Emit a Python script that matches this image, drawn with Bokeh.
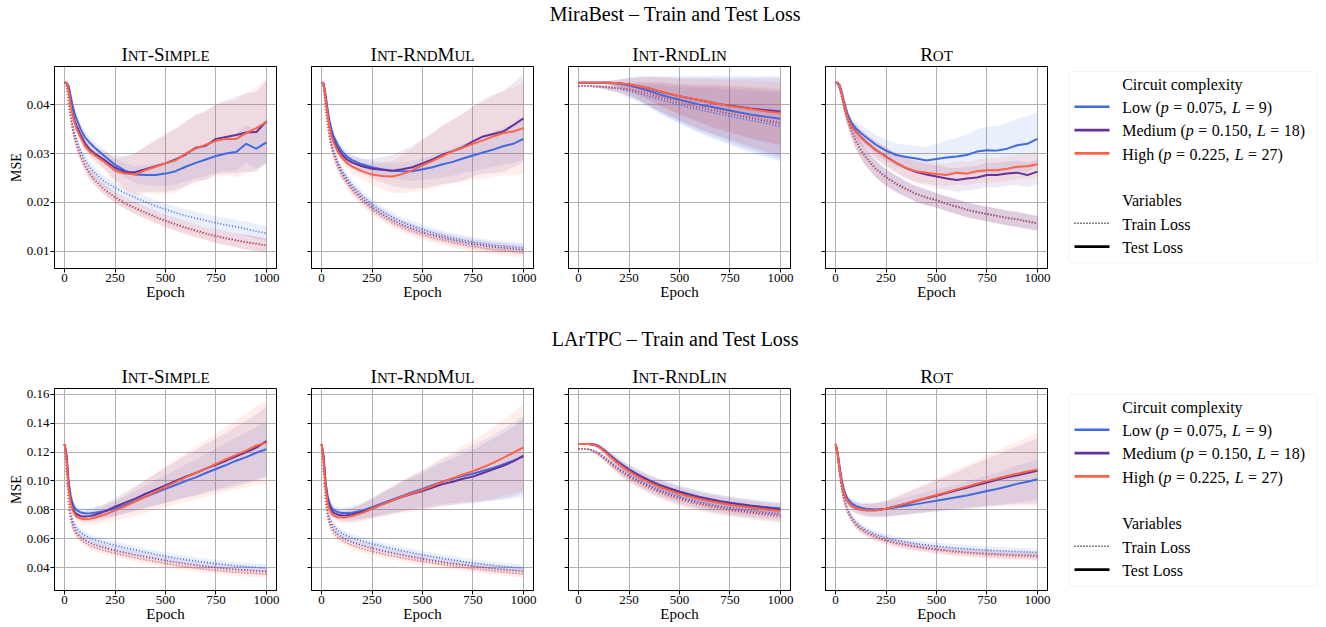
import math
from bokeh.plotting import figure
from bokeh.layouts import row, column
from bokeh.models import (Range1d, FixedTicker, PrintfTickFormatter,
                          CustomJSTickFormatter, Label, BoxAnnotation)
from bokeh.embed import file_html
from bokeh.resources import INLINE

# ---------------------------------------------------------------- data
EPOCHS = [0, 10, 20, 30, 40, 50, 60, 80, 100, 125, 150, 200, 250, 300, 350,
          400, 450, 500, 550, 600, 650, 700, 750, 800, 850, 900, 950, 1000]

COMPLEXITY = ["low", "med", "high"]
COMPLEXITY_LABELS = [("Low (", "0.075,", "9)"), ("Medium (", "0.150,", "18)"), ("High (", "0.225,", "27)")]
COLORS = {"low": "#4169e1", "med": "#663399", "high": "#ff6347"}

DATASETS = ["MiraBest", "LArTPC"]
SUPTITLES = ["MiraBest \u2013 Train and Test Loss", "LArTPC \u2013 Train and Test Loss"]
PANEL_TITLES = ["Int-Simple", "Int-RndMul", "Int-RndLin", "Rot"]

MB_Y_RANGE = (0.0065, 0.0478)
MB_Y_TICKS = [0.01, 0.02, 0.03, 0.04]
LA_Y_RANGE = (0.0243, 0.1639)
LA_Y_TICKS = [0.04, 0.06, 0.08, 0.10, 0.12, 0.14, 0.16]
X_TICKS = [0, 250, 500, 750, 1000]

# ---- MiraBest / Int-Simple
MB_SIMPLE_TEST_LOW = [.0445, .0445, .0438, .0418, .0398, .0382, .0370, .0350, .0334, .0322, .0312, .0294, .0277, .0265, .0257, .0256, .0256, .0259, .0264, .0273, .0281, .0288, .0295, .0300, .0303, .0320, .0310, .0323]
MB_SIMPLE_TEST_MED = [.0445, .0445, .0432, .0405, .0383, .0367, .0356, .0338, .0322, .0308, .0300, .0286, .0271, .0262, .0262, .0268, .0274, .0280, .0288, .0298, .0312, .0316, .0330, .0334, .0338, .0343, .0344, .0366]
MB_SIMPLE_TEST_HIGH = [.0445, .0445, .0428, .0400, .0378, .0362, .0350, .0332, .0316, .0304, .0296, .0282, .0265, .0259, .0257, .0266, .0273, .0280, .0286, .0300, .0310, .0318, .0326, .0330, .0330, .0342, .0352, .0365]
MB_SIMPLE_TRAIN_LOW = [.0445, .0440, .0410, .0382, .0360, .0342, .0328, .0305, .0288, .0272, .0260, .0242, .0230, .0219, .0210, .0201, .0193, .0186, .0179, .0173, .0168, .0163, .0158, .0154, .0150, .0146, .0141, .0137]
MB_SIMPLE_TRAIN_MED = [.0445, .0438, .0402, .0372, .0350, .0332, .0317, .0294, .0276, .0259, .0246, .0226, .0211, .0199, .0189, .0180, .0171, .0163, .0156, .0149, .0143, .0137, .0132, .0127, .0123, .0119, .0116, .0112]
MB_SIMPLE_TRAIN_HIGH = [.0445, .0438, .0400, .0370, .0348, .0330, .0315, .0292, .0274, .0257, .0244, .0224, .0209, .0197, .0187, .0178, .0169, .0161, .0154, .0147, .0141, .0135, .0130, .0126, .0122, .0118, .0115, .0111]
MB_SIMPLE_TEST_SD_LOW = [0, 0, .0003, .0005, .0007, .0008, .0009, .0010, .0011, .0012, .0012, .0012, .0013, .0015, .0017, .0020, .0022, .0025, .0028, .0030, .0032, .0033, .0035, .0036, .0038, .0039, .0040, .0042]
MB_SIMPLE_TEST_SD_MED = [0, 0, .0003, .0005, .0007, .0008, .0009, .0010, .0011, .0012, .0013, .0018, .0025, .0033, .0040, .0046, .0052, .0058, .0062, .0065, .0068, .0070, .0072, .0075, .0078, .0080, .0082, .0084]
MB_SIMPLE_TEST_SD_HIGH = [0, 0, .0003, .0005, .0007, .0008, .0009, .0010, .0011, .0012, .0013, .0018, .0025, .0034, .0042, .0048, .0055, .0062, .0065, .0067, .0069, .0071, .0073, .0076, .0079, .0082, .0084, .0086]
MB_SIMPLE_TRAIN_SD = [0, 0, .0004, .0006, .0008, .0009, .0010, .0010, .0011, .0011, .0011, .0011, .0011, .0011, .0012, .0012, .0012, .0012, .0013, .0013, .0013, .0013, .0014, .0014, .0014, .0015, .0015, .0015]

# ---- MiraBest / Int-RndMul
MB_RNDMUL_TEST_LOW = [.0445, .0443, .0420, .0390, .0365, .0348, .0335, .0318, .0305, .0294, .0287, .0278, .0272, .0268, .0265, .0264, .0264, .0268, .0272, .0278, .0283, .0290, .0296, .0302, .0308, .0315, .0320, .0330]
MB_RNDMUL_TEST_MED = [.0445, .0443, .0415, .0383, .0357, .0340, .0327, .0310, .0298, .0288, .0282, .0274, .0269, .0267, .0265, .0268, .0272, .0280, .0288, .0298, .0305, .0313, .0325, .0335, .0340, .0345, .0358, .0372]
MB_RNDMUL_TEST_HIGH = [.0445, .0443, .0412, .0380, .0353, .0335, .0322, .0304, .0292, .0281, .0274, .0264, .0257, .0254, .0253, .0258, .0266, .0276, .0285, .0295, .0305, .0312, .0320, .0327, .0335, .0342, .0345, .0352]
MB_RNDMUL_TRAIN_LOW = [.0445, .0438, .0395, .0362, .0338, .0320, .0305, .0283, .0266, .0250, .0236, .0214, .0196, .0182, .0170, .0160, .0152, .0145, .0138, .0132, .0127, .0123, .0119, .0116, .0113, .0111, .0109, .0107]
MB_RNDMUL_TRAIN_MED = [.0445, .0437, .0392, .0358, .0333, .0314, .0299, .0277, .0260, .0244, .0230, .0208, .0190, .0176, .0164, .0154, .0146, .0139, .0133, .0128, .0123, .0119, .0115, .0112, .0109, .0107, .0105, .0103]
MB_RNDMUL_TRAIN_HIGH = [.0445, .0436, .0389, .0354, .0329, .0310, .0295, .0272, .0255, .0239, .0225, .0203, .0185, .0171, .0159, .0149, .0141, .0134, .0128, .0123, .0118, .0114, .0110, .0107, .0104, .0102, .0100, .0098]
MB_RNDMUL_TEST_SD_LOW = [0, 0, .0003, .0005, .0007, .0008, .0009, .0010, .0011, .0011, .0012, .0012, .0013, .0014, .0016, .0018, .0020, .0022, .0024, .0026, .0028, .0030, .0032, .0034, .0036, .0038, .0040, .0042]
MB_RNDMUL_TEST_SD_MED = [0, 0, .0003, .0005, .0007, .0008, .0009, .0010, .0011, .0012, .0013, .0016, .0020, .0026, .0032, .0038, .0044, .0050, .0055, .0060, .0064, .0068, .0072, .0076, .0080, .0083, .0086, .0090]
MB_RNDMUL_TEST_SD_HIGH = [0, 0, .0003, .0005, .0007, .0008, .0009, .0010, .0011, .0012, .0013, .0016, .0021, .0027, .0033, .0039, .0045, .0051, .0056, .0061, .0066, .0070, .0074, .0078, .0082, .0086, .0090, .0094]
MB_RNDMUL_TRAIN_SD = [0, 0, .0004, .0006, .0008, .0009, .0010, .0010, .0010, .0010, .0010, .0010, .0010, .0010, .0010, .0010, .0010, .0010, .0010, .0010, .0010, .0010, .0010, .0010, .0010, .0010, .0010, .0010]

# ---- MiraBest / Int-RndLin
MB_RNDLIN_TEST_LOW = [.0445, .0445, .0445, .0445, .0445, .0445, .0445, .0445, .0445, .0445, .0445, .0443, .0439, .0434, .0428, .0421, .0415, .0410, .0405, .0400, .0396, .0392, .0388, .0384, .0380, .0377, .0374, .0371]
MB_RNDLIN_TEST_MED = [.0445, .0445, .0445, .0445, .0445, .0445, .0445, .0445, .0445, .0445, .0445, .0444, .0441, .0437, .0433, .0427, .0422, .0417, .0413, .0409, .0405, .0401, .0398, .0395, .0392, .0390, .0388, .0386]
MB_RNDLIN_TEST_HIGH = [.0445, .0445, .0445, .0445, .0445, .0445, .0445, .0445, .0445, .0445, .0445, .0444, .0441, .0437, .0433, .0428, .0422, .0417, .0413, .0409, .0405, .0401, .0397, .0394, .0391, .0388, .0385, .0383]
MB_RNDLIN_TRAIN_LOW = [.0438, .0438, .0438, .0438, .0438, .0438, .0438, .0437, .0437, .0436, .0435, .0432, .0428, .0423, .0417, .0411, .0405, .0399, .0394, .0389, .0385, .0381, .0376, .0372, .0368, .0364, .0360, .0356]
MB_RNDLIN_TRAIN_MED = [.0438, .0438, .0438, .0438, .0438, .0438, .0438, .0437, .0437, .0436, .0435, .0434, .0431, .0427, .0422, .0416, .0410, .0404, .0399, .0394, .0390, .0386, .0381, .0377, .0373, .0369, .0365, .0362]
MB_RNDLIN_TRAIN_HIGH = [.0438, .0438, .0438, .0438, .0438, .0438, .0438, .0437, .0437, .0436, .0435, .0434, .0431, .0427, .0422, .0417, .0411, .0405, .0400, .0396, .0392, .0388, .0384, .0380, .0376, .0372, .0368, .0365]
MB_RNDLIN_TEST_SD_LOW = [0, 0, 0, 0, 0, 0, 0, 0, .0001, .0002, .0004, .0009, .0017, .0024, .0031, .0037, .0043, .0048, .0053, .0058, .0063, .0067, .0071, .0075, .0078, .0081, .0084, .0087]
MB_RNDLIN_TEST_SD_MED = [0, 0, 0, 0, 0, 0, 0, 0, .0001, .0002, .0003, .0007, .0013, .0019, .0024, .0029, .0034, .0038, .0042, .0046, .0050, .0053, .0056, .0059, .0062, .0065, .0067, .0069]
MB_RNDLIN_TEST_SD_HIGH = [0, 0, 0, 0, 0, 0, 0, 0, .0001, .0002, .0003, .0007, .0012, .0018, .0023, .0028, .0032, .0036, .0040, .0044, .0047, .0050, .0053, .0056, .0058, .0060, .0062, .0064]
MB_RNDLIN_TRAIN_SD = [0, 0, 0, 0, 0, 0, .0001, .0002, .0003, .0004, .0006, .0009, .0014, .0019, .0024, .0029, .0033, .0037, .0041, .0045, .0049, .0052, .0055, .0058, .0061, .0064, .0066, .0068]

# ---- MiraBest / Rot
MB_ROT_TEST_LOW = [.0445, .0445, .0440, .0427, .0410, .0394, .0380, .0362, .0352, .0342, .0334, .0318, .0306, .0297, .0293, .0290, .0286, .0289, .0292, .0294, .0297, .0304, .0307, .0306, .0310, .0317, .0320, .0330]
MB_ROT_TEST_MED = [.0445, .0445, .0438, .0423, .0405, .0388, .0373, .0355, .0346, .0334, .0324, .0307, .0294, .0281, .0270, .0262, .0257, .0253, .0249, .0246, .0249, .0251, .0256, .0256, .0259, .0261, .0256, .0263]
MB_ROT_TEST_HIGH = [.0445, .0445, .0438, .0423, .0405, .0388, .0373, .0354, .0345, .0333, .0323, .0307, .0293, .0281, .0270, .0264, .0261, .0258, .0256, .0261, .0259, .0264, .0266, .0266, .0269, .0273, .0274, .0278]
MB_ROT_TRAIN_LOW = [.0445, .0443, .0433, .0418, .0400, .0383, .0370, .0346, .0327, .0308, .0293, .0269, .0252, .0239, .0228, .0218, .0211, .0205, .0198, .0192, .0186, .0181, .0177, .0173, .0169, .0166, .0162, .0158]
MB_ROT_TRAIN_MED = [.0445, .0443, .0432, .0416, .0398, .0381, .0368, .0344, .0326, .0307, .0292, .0268, .0251, .0238, .0227, .0217, .0210, .0204, .0197, .0191, .0185, .0180, .0176, .0172, .0168, .0165, .0161, .0157]
MB_ROT_TRAIN_HIGH = [.0445, .0443, .0432, .0416, .0398, .0381, .0368, .0344, .0325, .0306, .0291, .0267, .0250, .0237, .0226, .0217, .0210, .0204, .0197, .0191, .0185, .0180, .0176, .0172, .0168, .0165, .0161, .0157]
MB_ROT_TEST_SD_LOW = [0, 0, .0002, .0004, .0006, .0008, .0010, .0012, .0014, .0016, .0018, .0020, .0022, .0024, .0025, .0026, .0028, .0031, .0034, .0038, .0042, .0045, .0048, .0050, .0052, .0055, .0057, .0055]
MB_ROT_TEST_SD_MED = [0, 0, .0002, .0004, .0006, .0008, .0010, .0012, .0014, .0015, .0016, .0018, .0019, .0020, .0021, .0022, .0022, .0023, .0023, .0024, .0024, .0024, .0025, .0025, .0025, .0025, .0025, .0025]
MB_ROT_TEST_SD_HIGH = [0, 0, .0002, .0004, .0006, .0008, .0010, .0012, .0014, .0015, .0016, .0018, .0019, .0020, .0021, .0022, .0022, .0023, .0023, .0024, .0024, .0024, .0025, .0025, .0025, .0025, .0025, .0025]
MB_ROT_TRAIN_SD = [0, 0, .0003, .0006, .0009, .0011, .0013, .0015, .0016, .0017, .0017, .0017, .0017, .0017, .0016, .0016, .0016, .0015, .0015, .0015, .0015, .0015, .0015, .0015, .0015, .0015, .0015, .0015]

# ---- LArTPC / Int-Simple
LA_SIMPLE_TEST_LOW = [.1255, .1180, .1000, .0900, .0845, .0815, .0798, .0782, .0777, .0776, .0780, .0792, .0807, .0835, .0862, .0890, .0918, .0945, .0972, .1000, .1025, .1055, .1083, .1110, .1140, .1165, .1195, .1220]
LA_SIMPLE_TEST_MED = [.1255, .1160, .0970, .0870, .0815, .0785, .0770, .0757, .0754, .0757, .0765, .0790, .0822, .0850, .0878, .0910, .0940, .0970, .1000, .1030, .1055, .1085, .1112, .1140, .1170, .1200, .1230, .1275]
LA_SIMPLE_TEST_HIGH = [.1255, .1140, .0950, .0850, .0795, .0768, .0752, .0740, .0736, .0738, .0746, .0768, .0795, .0825, .0858, .0890, .0925, .0960, .0992, .1025, .1055, .1085, .1118, .1150, .1180, .1210, .1245, .1265]
LA_SIMPLE_TRAIN_LOW = [.1255, .1080, .0880, .0780, .0728, .0695, .0672, .0645, .0625, .0607, .0593, .0572, .0555, .0538, .0523, .0508, .0494, .0480, .0468, .0457, .0447, .0437, .0429, .0421, .0414, .0408, .0403, .0398]
LA_SIMPLE_TRAIN_MED = [.1255, .1060, .0850, .0750, .0698, .0665, .0642, .0612, .0592, .0573, .0559, .0538, .0520, .0504, .0490, .0476, .0463, .0450, .0438, .0428, .0418, .0409, .0401, .0394, .0388, .0383, .0379, .0375]
LA_SIMPLE_TRAIN_HIGH = [.1255, .1040, .0830, .0730, .0680, .0646, .0623, .0593, .0573, .0553, .0539, .0518, .0500, .0484, .0469, .0455, .0442, .0430, .0418, .0408, .0398, .0390, .0383, .0376, .0370, .0365, .0361, .0357]
LA_SIMPLE_TEST_SD_LOW = [0, .0010, .0020, .0025, .0028, .0030, .0031, .0033, .0035, .0038, .0040, .0045, .0052, .0060, .0068, .0077, .0086, .0095, .0104, .0113, .0122, .0131, .0140, .0150, .0160, .0170, .0180, .0190]
LA_SIMPLE_TEST_SD_MED = [0, .0010, .0020, .0025, .0028, .0030, .0032, .0034, .0036, .0040, .0044, .0052, .0062, .0074, .0086, .0098, .0110, .0122, .0134, .0146, .0158, .0170, .0182, .0194, .0206, .0218, .0230, .0240]
LA_SIMPLE_TEST_SD_HIGH = [0, .0010, .0020, .0025, .0028, .0030, .0032, .0035, .0038, .0042, .0047, .0057, .0070, .0084, .0098, .0112, .0126, .0140, .0154, .0168, .0182, .0196, .0210, .0224, .0240, .0256, .0272, .0290]
LA_SIMPLE_TRAIN_SD = [0, .0010, .0018, .0022, .0024, .0025, .0026, .0026, .0026, .0026, .0026, .0026, .0026, .0026, .0026, .0026, .0026, .0026, .0026, .0026, .0026, .0026, .0026, .0026, .0026, .0026, .0026, .0026]

# ---- LArTPC / Int-RndMul
LA_RNDMUL_TEST_LOW = [.1255, .1170, .0990, .0895, .0845, .0815, .0800, .0785, .0779, .0778, .0780, .0795, .0818, .0845, .0870, .0897, .0922, .0945, .0970, .0995, .1015, .1035, .1050, .1070, .1090, .1115, .1140, .1170]
LA_RNDMUL_TEST_MED = [.1255, .1160, .0970, .0875, .0825, .0795, .0780, .0767, .0762, .0763, .0768, .0785, .0810, .0838, .0865, .0890, .0912, .0930, .0955, .0978, .0995, .1015, .1030, .1055, .1080, .1105, .1135, .1175]
LA_RNDMUL_TEST_HIGH = [.1255, .1140, .0950, .0850, .0800, .0772, .0760, .0750, .0748, .0750, .0757, .0778, .0808, .0838, .0865, .0893, .0915, .0938, .0965, .0995, .1020, .1045, .1068, .1095, .1125, .1160, .1195, .1232]
LA_RNDMUL_TRAIN_LOW = [.1255, .1080, .0890, .0795, .0745, .0712, .0690, .0660, .0640, .0622, .0607, .0585, .0566, .0549, .0533, .0518, .0503, .0490, .0477, .0465, .0454, .0443, .0433, .0424, .0416, .0409, .0403, .0398]
LA_RNDMUL_TRAIN_MED = [.1255, .1060, .0860, .0765, .0715, .0683, .0661, .0631, .0611, .0593, .0578, .0555, .0535, .0518, .0503, .0488, .0474, .0462, .0450, .0439, .0429, .0420, .0411, .0403, .0395, .0388, .0382, .0377]
LA_RNDMUL_TRAIN_HIGH = [.1255, .1040, .0840, .0745, .0695, .0662, .0640, .0610, .0590, .0571, .0556, .0532, .0512, .0496, .0482, .0468, .0456, .0445, .0434, .0423, .0413, .0404, .0395, .0387, .0379, .0371, .0364, .0357]
LA_RNDMUL_TEST_SD_LOW = [0, .0010, .0020, .0025, .0028, .0030, .0032, .0035, .0038, .0042, .0046, .0055, .0066, .0078, .0090, .0102, .0114, .0126, .0140, .0154, .0168, .0182, .0196, .0212, .0228, .0244, .0260, .0280]
LA_RNDMUL_TEST_SD_MED = [0, .0010, .0020, .0025, .0028, .0030, .0032, .0035, .0038, .0042, .0046, .0055, .0066, .0078, .0090, .0102, .0114, .0126, .0138, .0150, .0162, .0174, .0186, .0198, .0212, .0226, .0240, .0255]
LA_RNDMUL_TEST_SD_HIGH = [0, .0010, .0020, .0025, .0028, .0030, .0032, .0035, .0038, .0042, .0047, .0057, .0070, .0084, .0098, .0112, .0126, .0140, .0154, .0168, .0182, .0196, .0212, .0228, .0244, .0260, .0278, .0300]
LA_RNDMUL_TRAIN_SD = [0, .0010, .0018, .0022, .0024, .0025, .0026, .0026, .0026, .0026, .0026, .0026, .0026, .0026, .0026, .0026, .0026, .0026, .0026, .0026, .0026, .0026, .0026, .0026, .0026, .0026, .0026, .0026]

# ---- LArTPC / Int-RndLin
LA_RNDLIN_TEST_LOW = [.1255, .1255, .1255, .1255, .1255, .1255, .1254, .1250, .1240, .1215, .1185, .1128, .1080, .1040, .1005, .0975, .0950, .0928, .0908, .0890, .0875, .0862, .0850, .0840, .0831, .0823, .0816, .0810]
LA_RNDLIN_TEST_MED = [.1255, .1255, .1255, .1255, .1255, .1255, .1254, .1250, .1238, .1212, .1182, .1124, .1076, .1036, .1001, .0971, .0946, .0924, .0904, .0887, .0872, .0859, .0847, .0837, .0828, .0820, .0812, .0805]
LA_RNDLIN_TEST_HIGH = [.1255, .1255, .1255, .1255, .1255, .1255, .1253, .1248, .1236, .1208, .1176, .1116, .1066, .1025, .0990, .0960, .0934, .0912, .0892, .0875, .0860, .0847, .0835, .0825, .0816, .0808, .0800, .0792]
LA_RNDLIN_TRAIN_LOW = [.1222, .1222, .1222, .1221, .1220, .1218, .1215, .1205, .1190, .1165, .1138, .1085, .1040, .1002, .0968, .0939, .0913, .0891, .0871, .0854, .0839, .0826, .0815, .0805, .0796, .0788, .0781, .0775]
LA_RNDLIN_TRAIN_MED = [.1222, .1222, .1222, .1221, .1220, .1218, .1214, .1202, .1186, .1160, .1132, .1077, .1031, .0992, .0958, .0928, .0902, .0880, .0860, .0843, .0828, .0815, .0803, .0793, .0784, .0776, .0769, .0762]
LA_RNDLIN_TRAIN_HIGH = [.1222, .1222, .1222, .1221, .1219, .1217, .1213, .1200, .1183, .1156, .1127, .1070, .1023, .0984, .0949, .0919, .0893, .0871, .0851, .0834, .0819, .0806, .0794, .0784, .0775, .0767, .0759, .0752]
LA_RNDLIN_TEST_SD_LOW = [0, 0, 0, .0002, .0004, .0006, .0008, .0012, .0016, .0020, .0024, .0030, .0034, .0037, .0039, .0040, .0041, .0042, .0042, .0042, .0042, .0042, .0042, .0042, .0042, .0042, .0042, .0042]
LA_RNDLIN_TEST_SD_MED = [0, 0, 0, .0002, .0004, .0006, .0008, .0012, .0016, .0020, .0024, .0030, .0034, .0037, .0039, .0040, .0041, .0042, .0042, .0042, .0042, .0042, .0042, .0042, .0042, .0042, .0042, .0042]
LA_RNDLIN_TEST_SD_HIGH = [0, 0, 0, .0002, .0004, .0006, .0008, .0012, .0016, .0020, .0024, .0030, .0034, .0037, .0039, .0040, .0041, .0042, .0042, .0042, .0042, .0042, .0042, .0042, .0042, .0042, .0042, .0042]
LA_RNDLIN_TRAIN_SD = [0, 0, 0, .0002, .0004, .0006, .0008, .0012, .0016, .0020, .0024, .0030, .0034, .0037, .0039, .0040, .0041, .0042, .0042, .0042, .0042, .0042, .0042, .0042, .0042, .0042, .0042, .0042]

# ---- LArTPC / Rot
LA_ROT_TEST_LOW = [.1255, .1200, .1100, .1010, .0950, .0905, .0875, .0845, .0828, .0815, .0808, .0803, .0808, .0818, .0828, .0840, .0852, .0864, .0876, .0888, .0900, .0915, .0930, .0945, .0962, .0980, .0995, .1012]
LA_ROT_TEST_MED = [.1255, .1190, .1080, .0990, .0930, .0885, .0857, .0828, .0813, .0803, .0798, .0798, .0808, .0825, .0843, .0862, .0880, .0898, .0917, .0935, .0953, .0972, .0990, .1008, .1025, .1040, .1055, .1070]
LA_ROT_TEST_HIGH = [.1255, .1190, .1080, .0990, .0930, .0885, .0857, .0828, .0813, .0803, .0798, .0798, .0808, .0826, .0845, .0865, .0884, .0903, .0922, .0942, .0961, .0981, .0999, .1017, .1034, .1050, .1065, .1080]
LA_ROT_TRAIN_LOW = [.1255, .1180, .1060, .0960, .0890, .0840, .0800, .0748, .0712, .0682, .0660, .0628, .0606, .0590, .0577, .0566, .0557, .0549, .0542, .0536, .0531, .0526, .0522, .0518, .0515, .0512, .0509, .0506]
LA_ROT_TRAIN_MED = [.1255, .1175, .1050, .0950, .0880, .0830, .0790, .0737, .0700, .0669, .0646, .0613, .0590, .0573, .0559, .0547, .0537, .0528, .0520, .0513, .0507, .0502, .0498, .0494, .0491, .0488, .0486, .0484]
LA_ROT_TRAIN_HIGH = [.1255, .1175, .1048, .0948, .0878, .0827, .0787, .0733, .0696, .0665, .0642, .0608, .0585, .0567, .0553, .0541, .0531, .0522, .0514, .0507, .0501, .0496, .0491, .0487, .0483, .0480, .0477, .0475]
LA_ROT_TEST_SD_LOW = [0, .0010, .0020, .0025, .0028, .0030, .0032, .0035, .0038, .0040, .0042, .0046, .0050, .0055, .0060, .0066, .0072, .0078, .0084, .0090, .0096, .0102, .0108, .0114, .0120, .0126, .0132, .0138]
LA_ROT_TEST_SD_MED = [0, .0010, .0020, .0025, .0028, .0030, .0032, .0035, .0038, .0040, .0043, .0048, .0055, .0064, .0074, .0084, .0094, .0104, .0114, .0126, .0138, .0150, .0162, .0175, .0188, .0200, .0212, .0225]
LA_ROT_TEST_SD_HIGH = [0, .0010, .0020, .0025, .0028, .0030, .0032, .0035, .0038, .0040, .0043, .0049, .0057, .0067, .0078, .0089, .0100, .0112, .0124, .0137, .0150, .0163, .0177, .0192, .0207, .0222, .0237, .0255]
LA_ROT_TRAIN_SD = [0, .0010, .0018, .0022, .0024, .0025, .0026, .0026, .0026, .0026, .0026, .0026, .0026, .0026, .0026, .0026, .0026, .0026, .0026, .0026, .0026, .0026, .0026, .0026, .0026, .0026, .0026, .0026]

PANELS = {
    ("MiraBest", "Int-Simple"): dict(
        test=[MB_SIMPLE_TEST_LOW, MB_SIMPLE_TEST_MED, MB_SIMPLE_TEST_HIGH],
        train=[MB_SIMPLE_TRAIN_LOW, MB_SIMPLE_TRAIN_MED, MB_SIMPLE_TRAIN_HIGH],
        test_sd=[MB_SIMPLE_TEST_SD_LOW, MB_SIMPLE_TEST_SD_MED, MB_SIMPLE_TEST_SD_HIGH],
        train_sd=MB_SIMPLE_TRAIN_SD),
    ("MiraBest", "Int-RndMul"): dict(
        test=[MB_RNDMUL_TEST_LOW, MB_RNDMUL_TEST_MED, MB_RNDMUL_TEST_HIGH],
        train=[MB_RNDMUL_TRAIN_LOW, MB_RNDMUL_TRAIN_MED, MB_RNDMUL_TRAIN_HIGH],
        test_sd=[MB_RNDMUL_TEST_SD_LOW, MB_RNDMUL_TEST_SD_MED, MB_RNDMUL_TEST_SD_HIGH],
        train_sd=MB_RNDMUL_TRAIN_SD),
    ("MiraBest", "Int-RndLin"): dict(
        test=[MB_RNDLIN_TEST_LOW, MB_RNDLIN_TEST_MED, MB_RNDLIN_TEST_HIGH],
        train=[MB_RNDLIN_TRAIN_LOW, MB_RNDLIN_TRAIN_MED, MB_RNDLIN_TRAIN_HIGH],
        test_sd=[MB_RNDLIN_TEST_SD_LOW, MB_RNDLIN_TEST_SD_MED, MB_RNDLIN_TEST_SD_HIGH],
        train_sd=MB_RNDLIN_TRAIN_SD),
    ("MiraBest", "Rot"): dict(
        test=[MB_ROT_TEST_LOW, MB_ROT_TEST_MED, MB_ROT_TEST_HIGH],
        train=[MB_ROT_TRAIN_LOW, MB_ROT_TRAIN_MED, MB_ROT_TRAIN_HIGH],
        test_sd=[MB_ROT_TEST_SD_LOW, MB_ROT_TEST_SD_MED, MB_ROT_TEST_SD_HIGH],
        train_sd=MB_ROT_TRAIN_SD),
    ("LArTPC", "Int-Simple"): dict(
        test=[LA_SIMPLE_TEST_LOW, LA_SIMPLE_TEST_MED, LA_SIMPLE_TEST_HIGH],
        train=[LA_SIMPLE_TRAIN_LOW, LA_SIMPLE_TRAIN_MED, LA_SIMPLE_TRAIN_HIGH],
        test_sd=[LA_SIMPLE_TEST_SD_LOW, LA_SIMPLE_TEST_SD_MED, LA_SIMPLE_TEST_SD_HIGH],
        train_sd=LA_SIMPLE_TRAIN_SD),
    ("LArTPC", "Int-RndMul"): dict(
        test=[LA_RNDMUL_TEST_LOW, LA_RNDMUL_TEST_MED, LA_RNDMUL_TEST_HIGH],
        train=[LA_RNDMUL_TRAIN_LOW, LA_RNDMUL_TRAIN_MED, LA_RNDMUL_TRAIN_HIGH],
        test_sd=[LA_RNDMUL_TEST_SD_LOW, LA_RNDMUL_TEST_SD_MED, LA_RNDMUL_TEST_SD_HIGH],
        train_sd=LA_RNDMUL_TRAIN_SD),
    ("LArTPC", "Int-RndLin"): dict(
        test=[LA_RNDLIN_TEST_LOW, LA_RNDLIN_TEST_MED, LA_RNDLIN_TEST_HIGH],
        train=[LA_RNDLIN_TRAIN_LOW, LA_RNDLIN_TRAIN_MED, LA_RNDLIN_TRAIN_HIGH],
        test_sd=[LA_RNDLIN_TEST_SD_LOW, LA_RNDLIN_TEST_SD_MED, LA_RNDLIN_TEST_SD_HIGH],
        train_sd=LA_RNDLIN_TRAIN_SD),
    ("LArTPC", "Rot"): dict(
        test=[LA_ROT_TEST_LOW, LA_ROT_TEST_MED, LA_ROT_TEST_HIGH],
        train=[LA_ROT_TRAIN_LOW, LA_ROT_TRAIN_MED, LA_ROT_TRAIN_HIGH],
        test_sd=[LA_ROT_TEST_SD_LOW, LA_ROT_TEST_SD_MED, LA_ROT_TEST_SD_HIGH],
        train_sd=LA_ROT_TRAIN_SD),
}

# ---------------------------------------------------------------- style / layout
FONT = "Liberation Serif"
X_RANGE = (-50, 1050)
FRAME_W = 222
FRAME_H = 202
TOTAL_W = 1326
PANEL_WIDTHS = [288, 257, 257, 257]
PANEL_LEFTS = [54, 23, 23, 23]
LEGEND_W = TOTAL_W - sum(PANEL_WIDTHS)        # 267
FRAME_CENTERS = [165, 422, 679, 936]          # page x of each panel centre
MID = 0.34                                    # em distance baseline -> middle of text

# Times-compatible advance widths (per 1000 em) for hand-set small caps / math italics
W_REG = {" ": 250, "(": 333, ")": 333, "=": 564, ".": 250, ",": 250, "-": 333,
         "0": 500, "1": 500, "2": 500, "3": 500, "4": 500, "5": 500, "6": 500,
         "7": 500, "8": 500, "9": 500, "L": 611, "o": 500, "w": 722, "M": 889,
         "e": 444, "d": 500, "i": 278, "u": 500, "m": 778, "H": 722, "g": 500,
         "h": 500, "I": 333, "N": 722, "T": 611, "S": 556, "P": 556, "E": 611,
         "R": 667, "D": 722, "U": 722, "O": 722}
W_ITAL = {"p": 500, "L": 556}


def text_width(s, size, italic=False):
    table = W_ITAL if italic else W_REG
    return sum(table.get(c, 500) for c in s) / 1000.0 * size


def put_text(p, x, baseline, text, size, align="left", italic=False):
    p.add_layout(Label(x=x, y=baseline - MID * size, text=text, text_align=align,
                       text_baseline="middle", text_font=FONT,
                       text_font_size=f"{size}px", text_color="black",
                       text_font_style="italic" if italic else "normal"))


def strip_figure(height):
    p = figure(width=TOTAL_W, height=height, x_range=Range1d(0, TOTAL_W),
               y_range=Range1d(height, 0), x_axis_type=None, y_axis_type=None,
               toolbar_location=None, output_backend="svg", min_border=0, title=None)
    p.outline_line_color = None
    return p


def add_smallcaps(p, text, cx, baseline):
    big, small = 19, 15
    chunks = []
    for ch in text:
        sm = ch.islower()
        if chunks and chunks[-1][1] == sm:
            chunks[-1][0] += ch.upper()
        else:
            chunks.append([ch.upper(), sm])
    widths = [text_width(s, small if sm else big) for s, sm in chunks]
    x = cx - sum(widths) / 2.0
    for (s, sm), w in zip(chunks, widths):
        put_text(p, x, baseline, s, small if sm else big)
        x += w


def make_header(height, suptitle, sup_base, title_base):
    p = strip_figure(height)
    put_text(p, 675, sup_base, suptitle, 20, align="center")
    for t, cx in zip(PANEL_TITLES, FRAME_CENTERS):
        add_smallcaps(p, t, cx, title_base)
    return p


def make_panel(dataset, title, yr, yticks, first, width, left, height, top_b, bot_b):
    d = PANELS[(dataset, title)]
    p = figure(width=width, height=height, x_range=Range1d(*X_RANGE), y_range=Range1d(*yr),
               min_border_left=left, min_border_right=width - left - FRAME_W,
               min_border_top=top_b, min_border_bottom=bot_b,
               toolbar_location=None, output_backend="svg", title=None)
    p.outline_line_color = "black"
    p.outline_line_width = 1
    p.outline_line_alpha = 1
    for ax in (p.xaxis[0], p.yaxis[0]):
        ax.major_tick_out = 4
        ax.major_tick_in = 0
        ax.minor_tick_out = 0
        ax.minor_tick_in = 0
        ax.major_tick_line_color = "black"
        ax.axis_line_color = "black"
        ax.major_label_text_font = FONT
        ax.major_label_text_font_size = "13px"
        ax.major_label_text_color = "black"
        ax.major_label_standoff = 1
        ax.axis_label_text_font = FONT
        ax.axis_label_text_font_style = "normal"
        ax.axis_label_text_color = "black"
    p.xaxis.ticker = FixedTicker(ticks=X_TICKS)
    p.yaxis.ticker = FixedTicker(ticks=yticks)
    p.xaxis.axis_label = "Epoch"
    p.xaxis.axis_label_text_font_size = "15px"
    p.xaxis.axis_label_standoff = -1
    if first:
        p.yaxis.formatter = PrintfTickFormatter(format="%.2f")
        p.yaxis.axis_label = "MSE"
        p.yaxis.axis_label_text_font_size = "14px"
        p.yaxis.axis_label_standoff = 0
    else:
        p.yaxis.formatter = CustomJSTickFormatter(code="return ''")
    p.xgrid.grid_line_color = "#b0b0b0"
    p.ygrid.grid_line_color = "#b0b0b0"
    p.xgrid.grid_line_width = 1
    p.ygrid.grid_line_width = 1

    for i, c in enumerate(COMPLEXITY):
        col = COLORS[c]
        for mean, sd in ((d["test"][i], d["test_sd"][i]), (d["train"][i], d["train_sd"])):
            lo = [m - s for m, s in zip(mean, sd)]
            hi = [m + s for m, s in zip(mean, sd)]
            p.varea(x=EPOCHS, y1=lo, y2=hi, fill_color=col, fill_alpha=0.11)
    for i, c in enumerate(COMPLEXITY):
        p.line(EPOCHS, d["train"][i], line_color=COLORS[c], line_width=1.6, line_dash="1 2")
    for i, c in enumerate(COMPLEXITY):
        p.line(EPOCHS, d["test"][i], line_color=COLORS[c], line_width=2)
    return p


def make_legend(height, top_b, bot_b, box_top):
    W = LEGEND_W
    p = figure(width=W, height=height, x_range=Range1d(0, W), y_range=Range1d(FRAME_H, 0),
               x_axis_type=None, y_axis_type=None, toolbar_location=None,
               output_backend="svg", min_border_left=0, min_border_right=0,
               min_border_top=top_b, min_border_bottom=bot_b, title=None)
    p.outline_line_color = None
    p.add_layout(BoxAnnotation(left=9, right=258, top=box_top, bottom=box_top + 191.5,
                               fill_color="white", fill_alpha=1, line_color="#d6d6d6",
                               line_width=1, border_radius=4, level="underlay"))
    fs = 16
    tx = 62.7
    thick = 0.278 * fs          # math thick space around "="
    comma_gap = 0.33 * fs       # space after the comma

    def base(i):
        return box_top + 18.3 + 23.3 * i

    put_text(p, tx, base(0), "Circuit complexity", fs)
    for i, (c, (name, pv, lv)) in enumerate(zip(COMPLEXITY, COMPLEXITY_LABELS)):
        y = base(i + 1)
        p.line([15, 50], [y - 6.3, y - 6.3], line_color=COLORS[c], line_width=2.6)
        segs = [(name, False, 0), ("p", True, thick), ("=", False, thick),
                (pv, False, comma_gap), ("L", True, thick), ("=", False, thick), (lv, False, 0)]
        x = tx
        for s, it, gap in segs:
            put_text(p, x, y, s, fs, italic=it)
            x += text_width(s, fs, it) + gap
    put_text(p, tx, base(5), "Variables", fs)
    p.line([15, 50], [base(6) - 6.3, base(6) - 6.3], line_color="black", line_width=1.5, line_dash="1 2")
    put_text(p, tx, base(6), "Train Loss", fs)
    p.line([15, 50], [base(7) - 6.3, base(7) - 6.3], line_color="black", line_width=2.6)
    put_text(p, tx, base(7), "Test Loss", fs)
    return p


def make_row(dataset, yr, yticks, height, top_b, bot_b, box_top):
    figs = []
    for j, t in enumerate(PANEL_TITLES):
        figs.append(make_panel(dataset, t, yr, yticks, j == 0, PANEL_WIDTHS[j], PANEL_LEFTS[j],
                               height, top_b, bot_b))
    figs.append(make_legend(height, top_b, bot_b, box_top))
    return row(*figs, spacing=0)


layout = column(
    make_header(65, SUPTITLES[0], 20, 60.8),
    make_row("MiraBest", MB_Y_RANGE, MB_Y_TICKS, 251, 1, 48, 5),
    make_header(71, SUPTITLES[1], 29, 66.8),
    make_row("LArTPC", LA_Y_RANGE, LA_Y_TICKS, 239, 1, 36, 6),
    spacing=0,
)

open("out.html", "w").write(file_html(layout, INLINE, "Train and Test Loss"))
